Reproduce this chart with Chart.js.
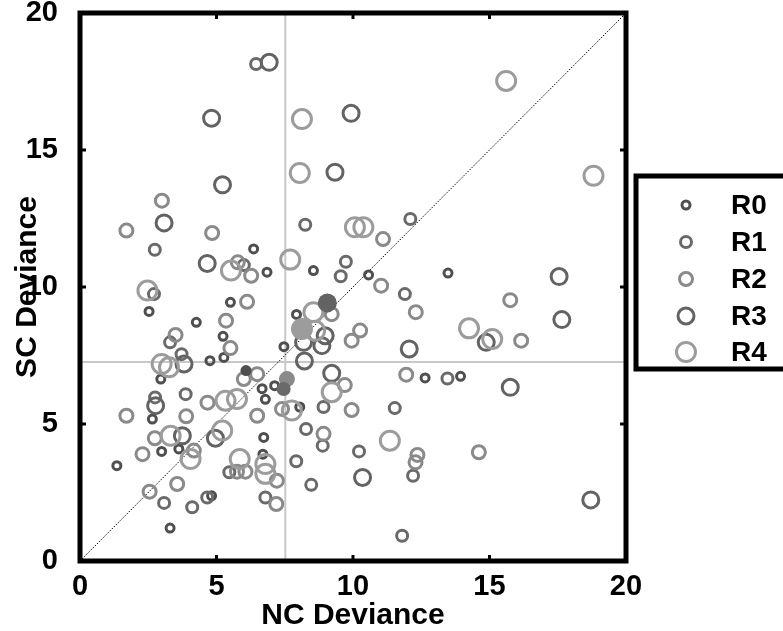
<!DOCTYPE html>
<html>
<head>
<meta charset="utf-8">
<script src="https://cdn.jsdelivr.net/npm/chart.js@4.4.0/dist/chart.umd.min.js"></script>
<style>
html, body { margin: 0; padding: 0; background: #fff; }
</style>
</head>
<body>
<canvas id="c" width="783" height="631"></canvas>
<script>
// data
var classLabels = ['R0', 'R1', 'R2', 'R3', 'R4'];

var r0X = [6.36, 6.85, 8.55, 10.57, 13.48, 7.93, 7.47, 12.64, 13.94, 2.53, 4.26, 5.24, 4.76, 5.27, 2.96, 2.65, 6.67, 6.79, 7.13, 8.05, 6.73, 6.7, 2.99, 3.62, 1.35, 4.82, 3.3, 5.51];
var r0Y = [11.39, 10.54, 10.6, 10.44, 10.51, 9.0, 7.82, 6.68, 6.74, 9.11, 8.71, 8.2, 7.31, 7.43, 6.64, 5.18, 6.29, 5.9, 6.4, 5.62, 4.51, 3.9, 4.0, 4.09, 3.48, 2.38, 1.2, 9.44];

var r1X = [6.45, 12.1, 8.25, 2.74, 9.74, 9.55, 6.0, 2.71, 11.9, 3.3, 3.72, 3.87, 2.75, 8.92, 11.53, 8.28, 8.89, 10.22, 12.2, 7.92, 8.47, 6.79, 3.08, 4.11, 4.66, 5.47, 11.8, 13.46];
var r1Y = [18.14, 12.48, 12.27, 11.36, 10.92, 10.39, 10.8, 9.74, 9.74, 7.98, 7.55, 6.09, 5.97, 5.62, 5.58, 4.82, 4.21, 4.0, 3.11, 3.64, 2.78, 2.32, 2.12, 1.96, 2.32, 3.24, 0.92, 6.66];

var r2X = [3.0, 1.7, 4.84, 11.1, 5.78, 6.27, 11.03, 6.12, 5.35, 3.5, 5.51, 12.3, 15.76, 16.16, 10.26, 9.95, 9.22, 6.49, 6.0, 11.95, 9.7, 6.49, 7.4, 9.95, 1.7, 3.89, 4.67, 8.92, 2.74, 2.29, 4.17, 12.36, 12.29, 14.61, 7.21, 7.19, 3.56, 2.55, 5.75, 6.06];
var r2Y = [13.15, 12.06, 11.97, 11.75, 10.9, 10.41, 10.05, 9.46, 8.77, 8.25, 7.77, 9.08, 9.52, 8.04, 8.41, 8.04, 9.01, 6.82, 6.64, 6.8, 6.42, 5.3, 5.55, 5.51, 5.3, 5.28, 5.78, 4.64, 4.48, 3.9, 4.03, 3.87, 3.6, 3.97, 2.93, 2.08, 2.81, 2.53, 3.26, 3.26];

var r3X = [6.93, 4.82, 9.93, 5.22, 9.34, 3.08, 4.66, 17.55, 17.65, 14.88, 12.06, 15.76, 3.81, 2.77, 8.22, 9.22, 8.98, 8.19, 8.86, 3.75, 4.96, 10.35, 18.71];
var r3Y = [18.2, 16.16, 16.34, 13.73, 14.19, 12.34, 10.86, 10.38, 8.81, 7.98, 7.74, 6.34, 7.19, 5.67, 7.3, 6.85, 8.22, 7.98, 7.86, 4.57, 4.48, 3.05, 2.23];

var r4X = [15.61, 18.81, 8.13, 8.05, 10.07, 10.38, 7.7, 5.53, 2.47, 14.25, 15.1, 8.55, 8.61, 2.99, 3.26, 9.22, 7.76, 5.33, 5.75, 11.35, 3.32, 5.21, 4.05, 5.85, 6.79, 6.79];
var r4Y = [17.52, 14.06, 16.13, 14.16, 12.18, 12.18, 11.0, 10.6, 9.87, 8.49, 8.1, 9.08, 8.4, 7.19, 7.07, 6.16, 5.49, 5.85, 5.91, 4.39, 4.57, 4.76, 3.72, 3.72, 3.54, 3.18];

// filled markers (class means)
var meanX = [6.08, 7.46, 7.58, 9.06, 8.13];
var meanY = [6.95, 6.28, 6.64, 9.42, 8.47];

// gray reference lines
var refX = 7.52;
var refY = 7.26;

var tickValues = [0, 5, 10, 15, 20];

var FONT = "'Liberation Sans', Arial, sans-serif";
var colors = ['#4f4f4f', '#6a6a6a', '#8a8a8a', '#636363', '#9c9c9c'];
var radii = [4, 5.5, 6.5, 8, 9.5];

function pts(xs, ys) {
	var out = [];
	for (var i = 0; i < xs.length; i++) {
		out.push({x: xs[i], y: ys[i]});
	}
	return out;
}

var classX = [r0X, r1X, r2X, r3X, r4X];
var classY = [r0Y, r1Y, r2Y, r3Y, r4Y];

var datasets = [];

for (var k = 0; k < 5; k++) {
	datasets.push({
		label: classLabels[k],
		data: pts(classX[k], classY[k]),
		pointRadius: radii[k],
		pointBorderWidth: 3,
		pointBorderColor: colors[k],
		pointBackgroundColor: 'rgba(0,0,0,0)',
		showLine: false,
		order: 6 - k
	});
}

for (var m = 0; m < 5; m++) {
	datasets.push({
		label: classLabels[m] + ' mean',
		data: [{x: meanX[m], y: meanY[m]}],
		pointRadius: radii[m] + 1.5,
		pointBorderWidth: 0,
		pointBackgroundColor: colors[m],
		showLine: false,
		order: 0
	});
}

// reference lines
datasets.push({
	label: 'vref',
	data: [{x: refX, y: 0}, {x: refX, y: 20}],
	showLine: true, pointRadius: 0, borderColor: '#c8c8c8', borderWidth: 2, order: 20
});
datasets.push({
	label: 'href',
	data: [{x: 0, y: refY}, {x: 20, y: refY}],
	showLine: true, pointRadius: 0, borderColor: '#c8c8c8', borderWidth: 2, order: 20
});
datasets.push({
	label: 'diag',
	data: [{x: 0, y: 0}, {x: 20, y: 20}],
	showLine: true, pointRadius: 0, borderColor: '#000', borderWidth: 1, borderDash: [1.5, 1.5], order: 19
});

var framePlugin = {
	id: 'frame',
	afterDraw: function(chart) {
		var ctx = chart.ctx;
		var a = chart.chartArea;
		var xs = chart.scales.x, ys = chart.scales.y;
		ctx.save();
		ctx.strokeStyle = '#000';
		ctx.lineWidth = 5;
		ctx.strokeRect(a.left, a.top, a.right - a.left, a.bottom - a.top);

		// inward tick marks
		ctx.lineWidth = 3;
		ctx.beginPath();
		for (var i = 1; i < tickValues.length - 1; i++) {
			var px = xs.getPixelForValue(tickValues[i]);
			ctx.moveTo(px, a.bottom); ctx.lineTo(px, a.bottom - 6);
			ctx.moveTo(px, a.top); ctx.lineTo(px, a.top + 6);
			var py = ys.getPixelForValue(tickValues[i]);
			ctx.moveTo(a.left, py); ctx.lineTo(a.left + 6, py);
			ctx.moveTo(a.right, py); ctx.lineTo(a.right - 6, py);
		}
		ctx.stroke();

		// legend box
		ctx.lineWidth = 5;
		ctx.strokeRect(636, 176, 170, 193);
		var ly = [205, 242, 279, 316, 352];
		ctx.font = 'bold 28px ' + FONT;
		ctx.textBaseline = 'middle';
		ctx.textAlign = 'left';
		for (var j = 0; j < 5; j++) {
			ctx.beginPath();
			ctx.lineWidth = 3;
			ctx.strokeStyle = colors[j];
			ctx.arc(686, ly[j], radii[j], 0, Math.PI * 2);
			ctx.stroke();
			ctx.fillStyle = '#000';
			ctx.fillText(classLabels[j], 731, ly[j] + 1);
		}
		ctx.restore();
	}
};

function noPad(s) {
	s.paddingTop = 0;
	s.paddingBottom = 0;
	s.paddingLeft = 0;
	s.paddingRight = 0;
}

var ctx = document.getElementById('c');

var chart = new Chart(ctx, {
	type: 'scatter',
	data: {datasets: datasets},
	options: {
		responsive: false,
		animation: false,
		devicePixelRatio: 1,
		events: [],
		layout: {
			autoPadding: false,
			padding: {left: 0, top: 13, right: 157, bottom: 0}
		},
		plugins: {
			legend: {display: false},
			tooltip: {enabled: false}
		},
		scales: {
			x: {
				type: 'linear',
				min: 0,
				max: 20,
				afterFit: function(s) { s.height = 70; noPad(s); },
				afterBuildTicks: function(s) { s.ticks = tickValues.map(function(v){ return {value: v}; }); },
				ticks: {color: '#000', padding: 9, maxRotation: 0, font: {family: FONT, size: 29, weight: 'bold'}},
				grid: {display: false, drawTicks: false},
				border: {display: false},
				title: {
					display: true,
					text: 'NC Deviance',
					color: '#000',
					font: {family: FONT, size: 30, weight: 'bold', lineHeight: 1},
					padding: {top: 0, bottom: 0}
				}
			},
			y: {
				type: 'linear',
				min: 0,
				max: 20,
				afterFit: function(s) { s.width = 80; noPad(s); },
				afterBuildTicks: function(s) { s.ticks = tickValues.map(function(v){ return {value: v}; }); },
				ticks: {color: '#000', padding: 22, font: {family: FONT, size: 29, weight: 'bold'}},
				grid: {display: false, drawTicks: false},
				border: {display: false},
				title: {
					display: true,
					text: 'SC Deviance',
					color: '#000',
					font: {family: FONT, size: 30, weight: 'bold', lineHeight: 1},
					padding: {top: 13, bottom: 0}
				}
			}
		}
	},
	plugins: [framePlugin]
});
</script>
</body>
</html>
